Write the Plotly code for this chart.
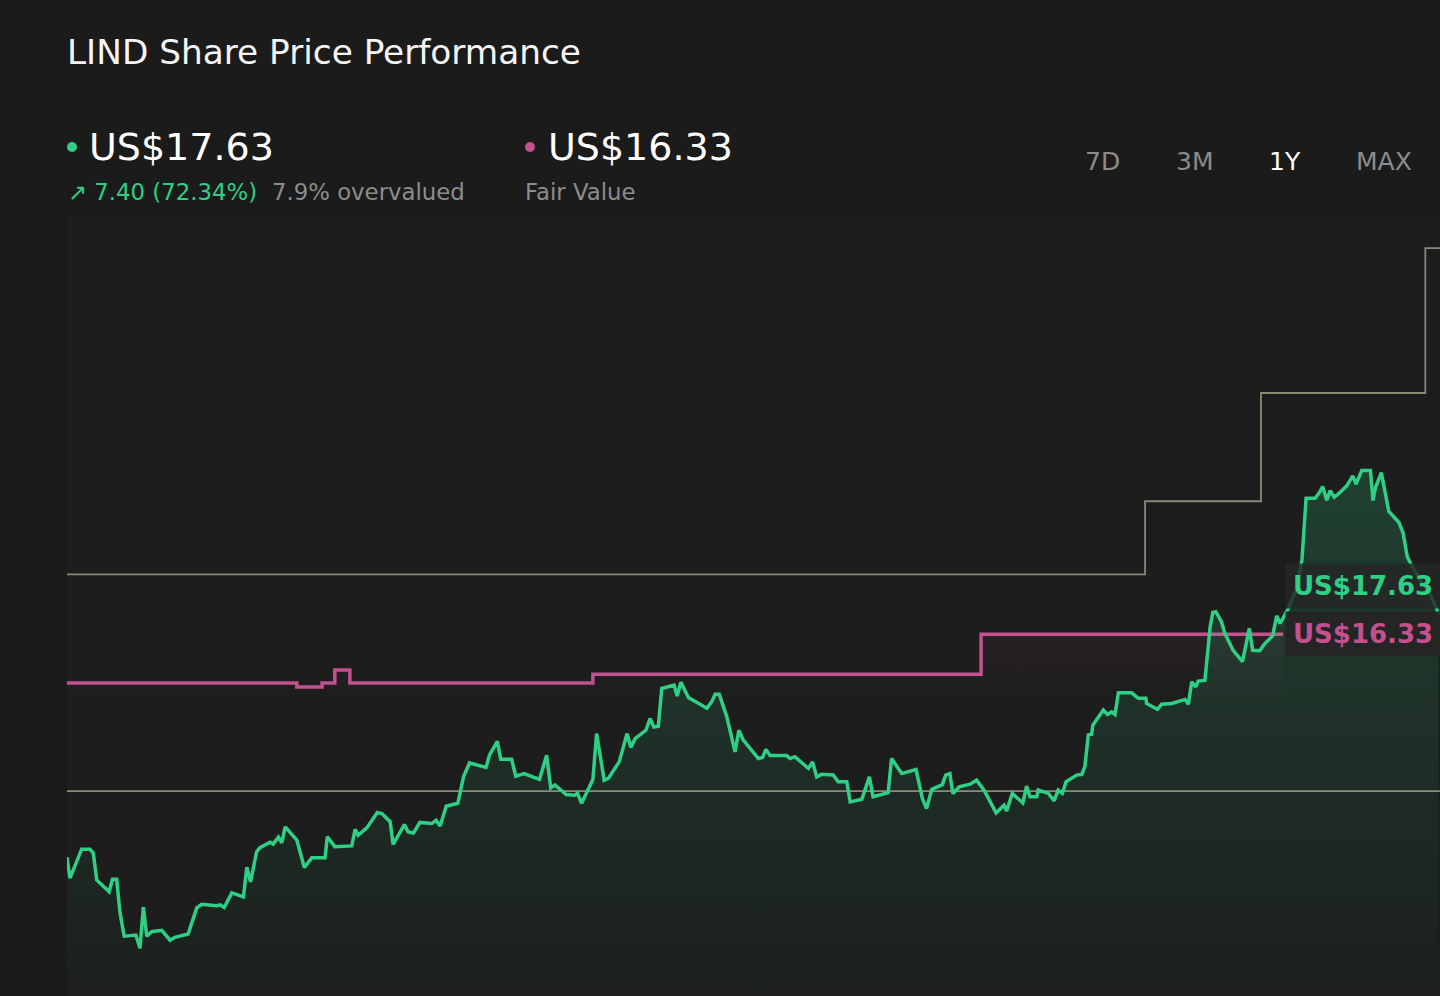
import pandas as pd
import plotly.graph_objects as go

# ---------------- data ----------------
START = "2023-11-27"
price_days = [0, 0.8, 3.9, 6.1, 7.0, 7.9, 11.2, 12.1, 13.2, 14.1,
              15.2, 18.3, 19.4, 20.3, 21.2, 22.5, 25.2, 27.4, 28.7, 32.2,
              34.5, 35.8, 39.8, 40.7, 41.8, 43.8, 46.9, 47.8, 48.8, 50.4,
              51.3, 54.0, 54.8, 56.2, 57.1, 58.0, 61.1, 61.9, 63.1, 65.1,
              68.6, 69.2, 71.2, 75.7, 76.6, 77.4, 79.7, 82.5, 83.7, 85.9,
              86.7, 89.7, 90.7, 92.1, 93.8, 97.0, 98.1, 99.2, 100.8, 103.9,
              104.5, 105.4, 107.0, 111.4, 112.3, 114.4, 115.3, 118.2, 119.3, 121.5,
              125.6, 127.5, 128.6, 129.7, 132.7, 135.0, 135.7, 136.8, 139.8, 140.8,
              142.8, 143.9, 146.8, 148.9, 149.9, 151.0, 153.9, 155.0, 156.0, 157.2,
              158.1, 161.4, 162.2, 163.2, 165.2, 170.1, 171.4, 172.3, 173.4, 175.4,
              177.6, 178.6, 179.8, 183.8, 184.9, 185.8, 186.9, 191.3, 192.2, 193.5,
              197.1, 198.2, 199.3, 200.6, 203.7, 205.0, 207.3, 208.2, 211.3, 213.3,
              214.3, 218.3, 219.2, 221.9, 225.7, 227.4, 228.5, 229.9, 232.7, 233.6,
              234.7, 235.5, 237.2, 240.1, 241.8, 243.8, 247.0, 249.1, 249.8, 251.3,
              254.1, 255.1, 256.0, 257.8, 258.2, 260.9, 262.4, 263.5, 264.6, 265.6,
              268.4, 269.8, 270.6, 271.5, 272.4, 272.7, 275.5, 276.6, 277.7, 278.6,
              279.5, 283.0, 284.8, 286.8, 287.0, 289.9, 291.0, 293.7, 297.2, 298.1,
              299.0, 300.1, 300.7, 302.5, 303.9, 304.6, 305.4, 306.9, 307.8, 310.0,
              312.5, 314.3, 315.2, 317.1, 318.5, 320.5, 321.6, 322.5, 324.7, 326.7,
              328.3, 329.4, 331.8, 332.9, 333.8, 334.9, 335.8, 336.9, 338.2, 340.2,
              341.8, 342.7, 344.2, 346.5, 347.2, 347.8, 349.4, 351.4, 354.1, 355.2,
              356.3, 357.6, 359.8, 362.5, 364.1, 364.6]
price_values = [10.25, 9.68, 10.47, 10.47, 10.36, 9.63, 9.31, 9.65, 9.65, 8.73,
                8.10, 8.13, 7.77, 8.89, 8.10, 8.22, 8.26, 7.99, 8.07, 8.16,
                8.87, 8.97, 8.93, 8.95, 8.88, 9.28, 9.17, 9.98, 9.58, 10.40,
                10.51, 10.66, 10.61, 10.80, 10.64, 11.08, 10.72, 10.44, 9.97, 10.24,
                10.24, 10.81, 10.54, 10.56, 11.01, 10.85, 11.05, 11.47, 11.44, 11.22,
                10.60, 11.14, 10.94, 10.91, 11.20, 11.17, 11.26, 11.10, 11.64, 11.72,
                12.03, 12.44, 12.82, 12.70, 13.03, 13.41, 12.92, 12.92, 12.46, 12.53,
                12.37, 13.03, 12.14, 12.22, 11.96, 11.94, 12.00, 11.72, 12.37, 13.62,
                12.35, 12.40, 12.85, 13.62, 13.24, 13.48, 13.71, 14.03, 13.80, 13.82,
                14.85, 14.94, 14.64, 15.02, 14.60, 14.31, 14.49, 14.69, 14.69, 14.08,
                13.12, 13.71, 13.44, 12.94, 12.97, 13.19, 13.02, 13.02, 12.94, 12.99,
                12.67, 12.85, 12.44, 12.51, 12.49, 12.31, 12.31, 11.76, 11.83, 12.44,
                11.90, 12.01, 12.94, 12.53, 12.64, 11.85, 11.58, 12.10, 12.23, 12.49,
                12.53, 11.99, 12.17, 12.24, 12.35, 12.08, 11.46, 11.67, 11.51, 11.99,
                11.73, 12.19, 11.90, 11.90, 12.08, 11.99, 11.79, 12.08, 11.99, 12.31,
                12.49, 12.51, 12.73, 13.58, 13.60, 13.85, 14.26, 14.14, 14.21, 14.14,
                14.73, 14.73, 14.58, 14.58, 14.44, 14.28, 14.42, 14.44, 14.55, 14.42,
                15.03, 14.89, 15.05, 15.07, 16.53, 16.92, 16.94, 16.67, 16.35, 15.89,
                15.58, 16.49, 15.89, 15.88, 16.08, 16.28, 16.83, 16.62, 17.03, 17.53,
                18.35, 20.03, 20.03, 20.18, 20.35, 19.98, 20.24, 20.06, 20.17, 20.37,
                20.64, 20.42, 20.79, 20.79, 19.97, 20.31, 20.73, 19.67, 19.37, 19.08,
                18.44, 18.17, 17.80, 17.39, 17.04, 16.85]

fair_days = [0, 61.1, 67.8, 71.2, 75.2, 139.8, 243.0, 323.3]
fair_values = [15.00, 14.89, 15.00, 15.35, 15.00, 15.24, 16.33, 16.33]

high_days = [0, 286.6, 317.4, 361.1, 365]
high_values = [17.96, 19.95, 22.90, 26.85, 26.85]

low_days = [0, 365]
low_values = [12.05, 12.05]

current_price = 17.63
fair_value = 16.33
TITLE = "LIND Share Price Performance"
change_text = "↗ 7.40 (72.34%)"
valuation_text = "7.9% overvalued"
periods = ["7D", "3M", "1Y", "MAX"]
active_period = "1Y"

# ---------------- styling ----------------
W, H = 1440, 996
ML, MT = 67, 215
FONT = "DejaVu Sans"
GREEN = "#2fcf86"
PINK = "#c4508f"
GRAY = "#8c8878"
BG = "#1b1b1b"
PLOT_BG = "#1c1d1c"
Y_RANGE = [6.47, 27.75]


def to_dates(days):
    return pd.Timestamp(START) + pd.to_timedelta(days, unit="D")


def px(xp):
    return (xp - ML) / (W - ML)


def py(yp):
    return (H - yp) / (H - MT)


fig = go.Figure()

fig.add_trace(go.Scatter(x=to_dates(low_days), y=low_values, mode="lines",
                         line=dict(color=GRAY, width=1.8), hoverinfo="skip"))
fig.add_trace(go.Scatter(x=to_dates(high_days), y=high_values, mode="lines",
                         line=dict(color=GRAY, width=1.8, shape="hv"), hoverinfo="skip"))

fig.add_trace(go.Scatter(
    x=to_dates(fair_days), y=fair_values, mode="lines",
    line=dict(color=PINK, width=3.5, shape="hv"),
    fill="tozeroy",
    fillgradient=dict(type="vertical", start=14.3, stop=16.33,
                      colorscale=[[0, "rgba(196,80,143,0)"], [1, "rgba(196,80,143,0.07)"]]),
    hoverinfo="skip"))

fig.add_trace(go.Scatter(
    x=to_dates(price_days), y=price_values, mode="lines",
    line=dict(color=GREEN, width=3.5),
    fill="tozeroy",
    fillgradient=dict(type="vertical", start=Y_RANGE[0], stop=20.8,
                      colorscale=[[0, "rgba(47,207,134,0.01)"], [1, "rgba(47,207,134,0.2)"]]),
    hoverinfo="skip"))

annotations = []
# header
annotations.append(dict(x=px(87), y=py(147), xref="paper", yref="paper", text="US$%.2f" % current_price,
                        showarrow=False, xanchor="left", yanchor="middle",
                        font=dict(family=FONT, size=38, color="#ffffff")))
annotations.append(dict(x=px(546), y=py(147), xref="paper", yref="paper", text="US$%.2f" % fair_value,
                        showarrow=False, xanchor="left", yanchor="middle",
                        font=dict(family=FONT, size=38, color="#ffffff")))
annotations.append(dict(x=px(66), y=py(192), xref="paper", yref="paper", text=change_text,
                        showarrow=False, xanchor="left", yanchor="middle",
                        font=dict(family=FONT, size=22.8, color=GREEN)))
annotations.append(dict(x=px(270), y=py(192), xref="paper", yref="paper", text=valuation_text,
                        showarrow=False, xanchor="left", yanchor="middle",
                        font=dict(family=FONT, size=22.8, color="#8c8c8c")))
annotations.append(dict(x=px(523), y=py(192), xref="paper", yref="paper", text="Fair Value",
                        showarrow=False, xanchor="left", yanchor="middle",
                        font=dict(family=FONT, size=22.8, color="#8c8c8c")))
for label, cx in zip(periods, [1102, 1194, 1285, 1384]):
    annotations.append(dict(x=px(cx), y=py(162), xref="paper", yref="paper", text=label,
                            showarrow=False, xanchor="center", yanchor="middle",
                            font=dict(family=FONT, size=25,
                                      color="#ffffff" if label == active_period else "#8c8c8c")))

# right-hand value labels
label_x = to_dates([323.8])[0]
annotations.append(dict(x=label_x, y=current_price, xref="x", yref="y",
                        text="<b>US$%.2f</b>" % current_price, showarrow=False,
                        xanchor="left", yanchor="middle", bgcolor="rgba(36,38,37,0.82)",
                        borderpad=7, font=dict(family=FONT, size=26, color=GREEN)))
annotations.append(dict(x=label_x, y=fair_value, xref="x", yref="y",
                        text="<b>US$%.2f</b>" % fair_value, showarrow=False,
                        xanchor="left", yanchor="middle", bgcolor="rgba(38,36,38,0.92)",
                        borderpad=7, font=dict(family=FONT, size=26, color=PINK)))

shapes = [
    dict(type="circle", xref="paper", yref="paper", x0=px(67), x1=px(77), y0=py(152), y1=py(142),
         fillcolor=GREEN, line=dict(width=0)),
    dict(type="circle", xref="paper", yref="paper", x0=px(525), x1=px(535), y0=py(152), y1=py(142),
         fillcolor=PINK, line=dict(width=0)),
]

fig.update_layout(
    width=W, height=H,
    margin=dict(l=ML, r=0, t=MT, b=0, pad=0),
    paper_bgcolor=BG, plot_bgcolor=PLOT_BG,
    showlegend=False,
    title=dict(text=TITLE, x=ML / W, xref="container", xanchor="left",
               y=1 - 52 / H, yref="container", yanchor="middle",
               font=dict(family=FONT, size=34.3, color="#f5f5f5")),
    xaxis=dict(range=[to_dates([0])[0], to_dates([365])[0]], visible=False, showgrid=False, zeroline=False),
    yaxis=dict(range=Y_RANGE, visible=False, showgrid=False, zeroline=False),
    annotations=annotations,
    shapes=shapes,
    font=dict(family=FONT),
    hovermode=False,
)

fig.write_html(
    "out.html",
    config={"displayModeBar": False},
    post_script="document.body.style.margin='0';document.body.style.overflow='hidden';"
                "document.body.style.background='#1b1b1b';",
)
